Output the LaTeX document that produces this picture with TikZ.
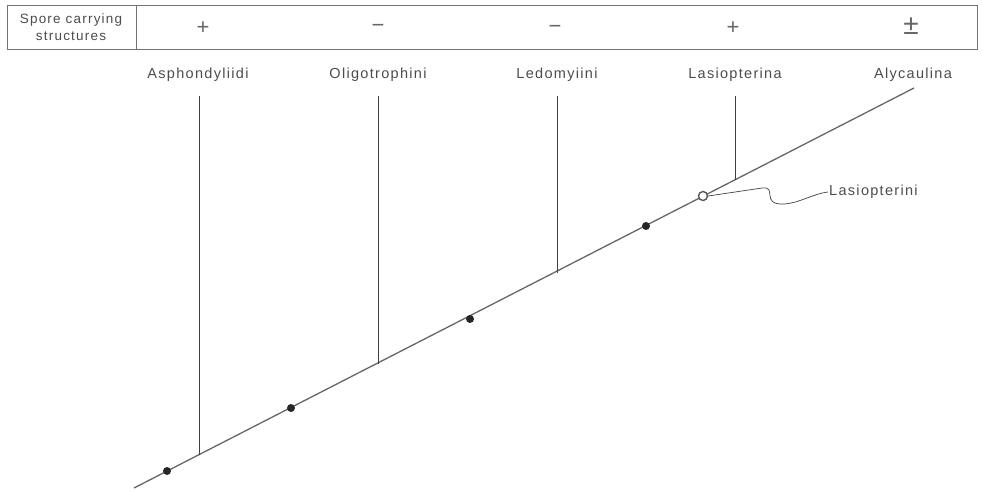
\documentclass[tikz,border=0pt]{standalone}
\usepackage{fontspec}
\setmainfont{Liberation Sans}[LetterSpace=9]
\begin{document}
\begin{tikzpicture}[x=1pt,y=-1pt,
  lbl/.style={font=\fontsize{14.5}{17}\selectfont, text=black!70, inner sep=1pt},
  sgn/.style={font=\fontsize{22}{24}\selectfont, text=black!60, inner sep=0pt},
  dot/.style={circle, fill=black!85, inner sep=0pt, minimum size=8pt},
  odot/.style={circle, draw=black!65, fill=white, line width=1.4pt, inner sep=0pt, minimum size=9pt},
  stem/.style={draw=black!75, line width=0.7pt},
  axis/.style={draw=black!60, line width=1.3pt},
  frame/.style={draw=black!55, line width=0.8pt}]
\useasboundingbox (0,0) rectangle (982,491);
% table
\draw[frame] (7,5) rectangle (977,49);
\draw[frame] (136,5) -- (136,49);
\node[lbl, align=center, font=\fontsize{13.5}{17}\selectfont] (hdr) at (71,27) {Spore carrying\\structures};
\node[sgn] (s1) at (203,28) {+};
\node[sgn] (s2) at (378,28) {−};
\node[sgn] (s3) at (555,29) {−};
\node[sgn] (s4) at (733,28) {+};
\node[sgn, font=\fontsize{28}{30}\selectfont] (s5) at (911,26) {±};
% tribe labels
\node[lbl] (a) at (198,75) {Asphondyliidi};
\node[lbl] (o) at (378,75) {Oligotrophini};
\node[lbl] (l) at (557,75) {Ledomyiini};
\node[lbl] (p) at (735,75) {Lasiopterina};
\node[lbl] (c) at (913,75) {Alycaulina};
% main line
\coordinate (st) at (134,488);
\coordinate (en) at (914,88);
\draw[axis] (st) -- (en);
% stems
\coordinate (ta) at (199,96); \coordinate (ba) at (199,455);
\coordinate (to) at (378,96); \coordinate (bo) at (378,364);
\coordinate (tl) at (557,96); \coordinate (bl) at (557,273);
\coordinate (tp) at (735,96); \coordinate (bp) at (735,180);
\draw[stem] (ta) -- (ba);
\draw[stem] (to) -- (bo);
\draw[stem] (tl) -- (bl);
\draw[stem] (tp) -- (bp);
% dots
\node[dot] (d1) at (167,471) {};
\node[dot] (d2) at (291,408) {};
\node[dot] (d3) at (470,319) {};
\node[dot] (d4) at (646,226) {};
\node[odot] (oc) at (703,196) {};
% leader
\node[lbl, anchor=west] (lt) at (828,192) {Lasiopterini};
\draw[draw=black!75, line width=0.7pt] (oc.east) -- (762,188)
  .. controls (778,186) and (760,205) .. (784,204)
  .. controls (800,203) and (812,194) .. (lt.west);
\end{tikzpicture}
\end{document}
